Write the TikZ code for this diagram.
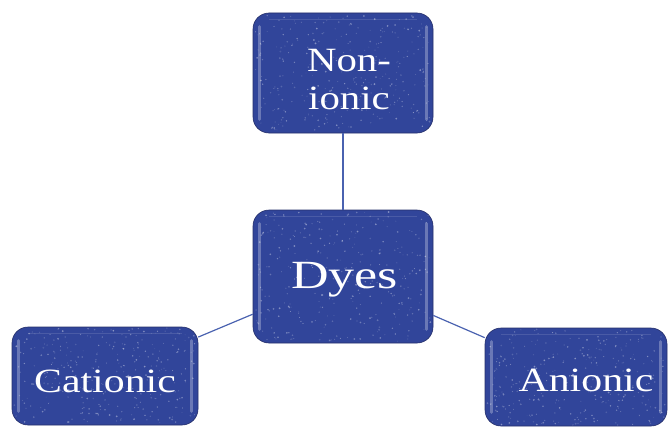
\documentclass[tikz,border=0pt]{standalone}
\usepackage{fontspec}
\usepackage{graphicx}
\setmainfont{Liberation Serif}
\usetikzlibrary{calc}
\definecolor{tilefill}{HTML}{31459A}
\definecolor{tileedge}{HTML}{26306A}
\definecolor{linkblue}{HTML}{4A62B0}
\tikzset{
  x=1pt, y=-1pt,
  tile/.style={draw=tileedge, line width=0.6pt, fill=tilefill,
    rounded corners=16pt, inner sep=0pt},
  tilehl/.style={draw=white, draw opacity=0.28, line width=3pt, line cap=round},
  lbl/.style={text=white, font=\fontsize{34}{38}\selectfont, align=center,
    inner sep=0pt},
  biglbl/.style={text=white, font=\fontsize{40}{42}\selectfont, inner sep=0pt},
  link/.style={draw=linkblue, line width=1.2pt},
}
% white speckle texture and side bevel highlights inside a tile
\newcommand{\speckle}[3]{%
  \begin{scope}
    \clip[rounded corners=16pt] ($(#1.north west)$) rectangle ($(#1.south east)$);
    \foreach \k in {1,...,320}{
      \pgfmathsetmacro{\dx}{rand*#2}
      \pgfmathsetmacro{\dy}{rand*#3}
      \pgfmathsetmacro{\op}{0.12+0.3*rnd}
      \pgfmathsetmacro{\rr}{0.4+0.6*rnd}
      \fill[white, opacity=\op] ($(#1.center)+(\dx,\dy)$) circle (\rr);
    }
    \draw[tilehl] ($(#1.north west)+(7,14)$) -- ($(#1.south west)+(7,-14)$);
    \draw[tilehl] ($(#1.north east)+(-7,14)$) -- ($(#1.south east)+(-7,-14)$);
    \draw[white, opacity=0.12, line width=1.5pt] ($(#1.north west)+(16,7)$) -- ($(#1.north east)+(-16,7)$);
  \end{scope}}
\begin{document}
\begin{tikzpicture}
  \useasboundingbox (0,0) rectangle (668,428);
  \pgfmathsetseed{11}

  % tiles
  \node[tile, minimum width=180pt, minimum height=120pt] (nonionic) at (343,73) {};
  \node[tile, minimum width=180pt, minimum height=133pt] (dyes) at (343,276.5) {};
  \node[tile, minimum width=186pt, minimum height=98pt] (cationic) at (105,376) {};
  \node[tile, minimum width=182pt, minimum height=98pt] (anionic) at (576,377) {};

  % connectors, centre to centre, clipped at the tile borders
  \draw[link] (dyes) -- (nonionic);
  \draw[link] (dyes) -- (cationic);
  \draw[link] (dyes) -- (anionic);

  \speckle{nonionic}{88}{58}
  \speckle{dyes}{88}{65}
  \speckle{cationic}{91}{48}
  \speckle{anionic}{89}{48}

  % labels
  \node[lbl] (nonionic-t) at (349,80) {\scalebox{1.2}[1]{Non-}\\\scalebox{1.2}[1]{ionic}};
  \node[biglbl] (dyes-t) at (344.5,280) {\scalebox{1.3}[1]{Dyes}};
  \node[lbl] (cationic-t) at (105,381) {\scalebox{1.23}[1]{Cationic}};
  \node[lbl] (anionic-t) at (586,380) {\scalebox{1.23}[1]{Anionic}};
\end{tikzpicture}
\end{document}
